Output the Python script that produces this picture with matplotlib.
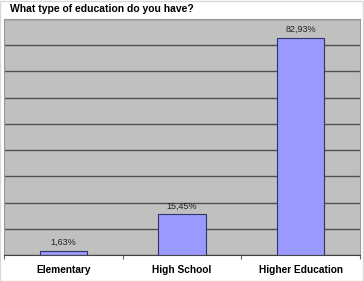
import matplotlib
matplotlib.use("Agg")
import matplotlib.pyplot as plt
from matplotlib.patches import Rectangle

categories = ["Elementary", "High School", "Higher Education"]
values = [1.63, 15.45, 82.93]
labels = ["1,63%", "15,45%", "82,93%"]

plt.rcParams["font.family"] = ["Liberation Sans", "DejaVu Sans"]

fig = plt.figure(figsize=(3.64, 2.81), dpi=100)
fig.patch.set_facecolor("white")
# light frame round the whole chart
fig.patches.append(Rectangle((0, 0), 0.997, 0.996, transform=fig.transFigure,
                             fill=False, edgecolor="#d8d8d8", linewidth=1))

ax = fig.add_axes([0.011, 0.0925, 0.978, 0.84])
ax.set_facecolor("#c0c0c0")
x = range(len(categories))
ax.bar(x, values, width=0.4, color="#9999ff", edgecolor="#333366", linewidth=0.8, zorder=3)
for xi, v, lab in zip(x, values, labels):
    ax.text(xi, v + 1.5, lab, ha="center", va="bottom", fontsize=6.5, color="#222222", zorder=4)

ax.set_xlim(-0.5, 2.5)
ax.set_ylim(0, 90)
ax.set_yticks(range(0, 91, 10))
ax.yaxis.grid(True, color="#505050", linewidth=1.0, zorder=1)
ax.tick_params(axis="y", left=False, labelleft=False)
ax.set_xticks([-0.5, 0.5, 1.5, 2.5], minor=False)
ax.set_xticklabels([])
ax.set_xticks(list(x), minor=True)
ax.set_xticklabels(categories, minor=True, fontsize=7.3, fontweight="heavy")
ax.tick_params(axis="x", which="major", length=3, color="#666666")
ax.tick_params(axis="x", which="minor", length=0, pad=7)
for side in ["top", "right", "left"]:
    ax.spines[side].set_color("#999999")
    ax.spines[side].set_linewidth(0.8)
ax.spines["bottom"].set_color("#444444")

fig.text(0.027, 0.968, "What type of education do you have?", fontsize=7.5, fontweight="heavy",
         ha="left", va="center")

fig.savefig("out.png", dpi=100)
